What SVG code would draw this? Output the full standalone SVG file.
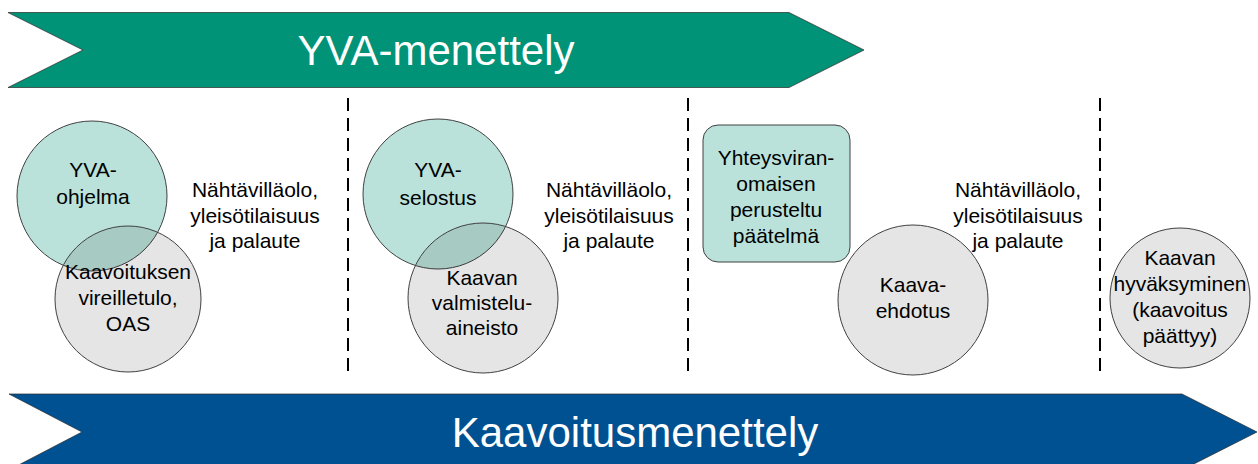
<svg xmlns="http://www.w3.org/2000/svg" width="1258" height="464" viewBox="0 0 1258 464">
<style>
text{font-family:"Liberation Sans",Arial,sans-serif;text-anchor:middle;}
.lbl{font-size:21px;fill:#000;}
.big{font-size:42px;fill:#fff;}
.green{fill:#009378;fill-opacity:0.27;stroke:#404040;stroke-width:1;}
.gray{fill:#000;fill-opacity:0.1;stroke:#404040;stroke-width:1;}
.sep{stroke:#000;stroke-width:2;stroke-dasharray:13 7;}
.arrow{stroke:#2b2b2b;stroke-width:1;stroke-opacity:0.7;}
</style>
<rect width="1258" height="464" fill="#fff"/>
<g id="yva-arrow">
<polygon class="arrow" fill="#009378" points="8,12.5 789,12.5 864,50 789,87.5 8,87.5 83,50"/>
<text class="big" x="436" y="65">YVA-menettely</text>
</g>
<g id="kaavoitus-arrow">
<polygon class="arrow" fill="#005192" points="9,394 1182,394 1257,432 1182,470 9,470 82,432"/>
<text class="big" x="635" y="447">Kaavoitusmenettely</text>
</g>
<g id="connectors">
<line class="sep" x1="348" y1="98" x2="348" y2="378"/>
<line class="sep" x1="688" y1="98" x2="688" y2="378"/>
<line class="sep" x1="1100" y1="98" x2="1100" y2="378"/>
</g>
<g id="yva-ohjelma">
<circle class="green" cx="92" cy="196" r="75"/>
<text class="lbl" x="93" y="177">YVA-</text>
<text class="lbl" x="93" y="204">ohjelma</text>
</g>
<g id="kaavoituksen-vireilletulo">
<circle class="gray" cx="128" cy="299" r="73"/>
<text class="lbl" x="128" y="279">Kaavoituksen</text>
<text class="lbl" x="128" y="305">vireilletulo,</text>
<text class="lbl" x="128" y="331">OAS</text>
</g>
<g id="nahtavillaolo-1">
<text class="lbl" x="255" y="197">Nähtävilläolo,</text>
<text class="lbl" x="255" y="223">yleisötilaisuus</text>
<text class="lbl" x="255" y="248">ja palaute</text>
</g>
<g id="yva-selostus">
<circle class="green" cx="438" cy="194" r="75"/>
<text class="lbl" x="438" y="177">YVA-</text>
<text class="lbl" x="438" y="205">selostus</text>
</g>
<g id="kaavan-valmisteluaineisto">
<circle class="gray" cx="483" cy="298" r="75"/>
<text class="lbl" x="482" y="285">Kaavan</text>
<text class="lbl" x="482" y="310">valmistelu-</text>
<text class="lbl" x="482" y="335">aineisto</text>
</g>
<g id="nahtavillaolo-2">
<text class="lbl" x="609" y="197">Nähtävilläolo,</text>
<text class="lbl" x="609" y="223">yleisötilaisuus</text>
<text class="lbl" x="609" y="248">ja palaute</text>
</g>
<g id="perusteltu-paatelma">
<rect x="703" y="125" width="147" height="137" rx="15" ry="15" fill="#009378" fill-opacity="0.27" stroke="#404040" stroke-width="1"/>
<text class="lbl" x="776" y="165">Yhteysviran-</text>
<text class="lbl" x="776" y="191">omaisen</text>
<text class="lbl" x="776" y="217">perusteltu</text>
<text class="lbl" x="776" y="243">päätelmä</text>
</g>
<g id="kaava-ehdotus">
<circle class="gray" cx="913" cy="300" r="75"/>
<text class="lbl" x="913" y="292">Kaava-</text>
<text class="lbl" x="913" y="318">ehdotus</text>
</g>
<g id="nahtavillaolo-3">
<text class="lbl" x="1018" y="197">Nähtävilläolo,</text>
<text class="lbl" x="1018" y="223">yleisötilaisuus</text>
<text class="lbl" x="1018" y="248">ja palaute</text>
</g>
<g id="kaavan-hyvaksyminen">
<circle class="gray" cx="1180" cy="298" r="70"/>
<text class="lbl" x="1180" y="265">Kaavan</text>
<text class="lbl" x="1180" y="291">hyväksyminen</text>
<text class="lbl" x="1180" y="317">(kaavoitus</text>
<text class="lbl" x="1180" y="343">päättyy)</text>
</g>
</svg>
